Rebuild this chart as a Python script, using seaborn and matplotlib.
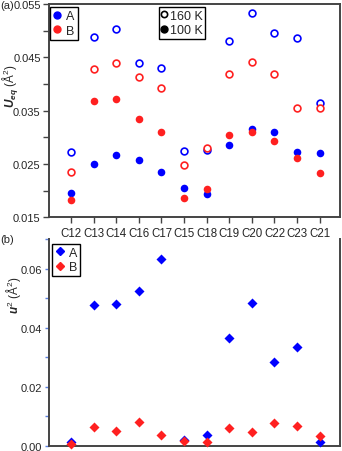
import numpy as np
import pandas as pd
import matplotlib
matplotlib.use("Agg")
import matplotlib.pyplot as plt
from matplotlib.lines import Line2D
from matplotlib.ticker import MultipleLocator
import seaborn as sns

sns.set_style("ticks")
plt.rcParams["font.family"] = ["Liberation Sans", "DejaVu Sans"]
plt.rcParams["mathtext.fontset"] = "custom"
plt.rcParams["mathtext.rm"] = "Liberation Sans"
plt.rcParams["mathtext.it"] = "Liberation Sans:italic"
plt.rcParams["mathtext.bf"] = "Liberation Sans:bold:italic"

atoms = ["C12", "C13", "C14", "C16", "C17", "C15", "C18", "C19", "C20", "C22", "C23", "C21"]

# Ueq (A^2) at 160 K and 100 K for sites A and B
ueq_160_A = [0.0272, 0.0489, 0.0504, 0.0439, 0.0430, 0.0275, 0.0276, 0.0481, 0.0534, 0.0496, 0.0487, 0.0364]
ueq_160_B = [0.0236, 0.0429, 0.0439, 0.0414, 0.0393, 0.0249, 0.0280, 0.0419, 0.0442, 0.0418, 0.0356, 0.0355]
ueq_100_A = [0.0195, 0.0251, 0.0268, 0.0257, 0.0235, 0.0205, 0.0194, 0.0286, 0.0315, 0.0311, 0.0273, 0.0271]
ueq_100_B = [0.0182, 0.0369, 0.0372, 0.0334, 0.0311, 0.0187, 0.0203, 0.0305, 0.0311, 0.0294, 0.0262, 0.0234]

# u^2 (A^2) for sites A and B
u2_A = [0.0011, 0.0478, 0.0482, 0.0525, 0.0634, 0.0019, 0.0035, 0.0366, 0.0484, 0.0283, 0.0334, 0.0011]
u2_B = [0.0007, 0.0062, 0.0051, 0.0081, 0.0036, 0.0015, 0.0011, 0.0061, 0.0045, 0.0078, 0.0068, 0.0034]

blue = "#0000ff"
red = "#ff2020"
spine_col = "#444444"

fig = plt.figure(figsize=(3.42, 4.52), dpi=100)
ax1 = fig.add_axes([0.1433, 0.5166, 0.8507, 0.4724])
ax2 = fig.add_axes([0.1433, 0.0118, 0.8507, 0.4563])

# top panel
for vals, col in [(ueq_160_A, blue), (ueq_160_B, red)]:
    sns.scatterplot(x=atoms, y=vals, ax=ax1, marker="o", s=24, color=col,
                    facecolor="white", edgecolor=col, linewidth=1.2, zorder=3)
for vals, col in [(ueq_100_A, blue), (ueq_100_B, red)]:
    sns.scatterplot(x=atoms, y=vals, ax=ax1, marker="o", s=30, color=col,
                    edgecolor=col, linewidth=0, zorder=3)

ax1.set_xlim(-0.98, 11.9)
ax1.set_ylim(0.015, 0.055)
ax1.set_yticks([0.015, 0.025, 0.035, 0.045, 0.055])
ax1.set_yticklabels(["0.015", "0.025", "0.035", "0.045", "0.055"])
ax1.yaxis.set_minor_locator(MultipleLocator(0.005))
ax1.tick_params(axis="both", which="both", direction="out", length=4, width=1,
                color=spine_col, labelsize=8, pad=2)
ax1.tick_params(axis="x", labelsize=8.3, pad=3)
for sp in ax1.spines.values():
    sp.set_color(spine_col)
    sp.set_linewidth(1.4)
ax1.set_ylabel(r"$\mathbf{U}_{\mathbf{eq}}$ (Å$^2$)", fontsize=8.5)
ax1.yaxis.set_label_coords(-0.095, 0.618)

h_ab = [Line2D([], [], marker="o", ls="", color=blue, markersize=5, label="A"),
        Line2D([], [], marker="o", ls="", color=red, markersize=5, label="B")]
leg1 = ax1.legend(handles=h_ab, loc="upper left", bbox_to_anchor=(0.005, 0.985),
                  frameon=True, fancybox=False, framealpha=1, edgecolor="black",
                  fontsize=9, handlelength=0.6, handletextpad=0.4, borderpad=0.25,
                  labelspacing=0.2, borderaxespad=0)
leg1.get_frame().set_linewidth(1.0)
ax1.add_artist(leg1)
h_t = [Line2D([], [], marker="o", ls="", color="black", markerfacecolor="white",
              markersize=4.5, markeredgewidth=1.2, label="160 K"),
       Line2D([], [], marker="o", ls="", color="black", markersize=5, label="100 K")]
leg2 = ax1.legend(handles=h_t, loc="upper left", bbox_to_anchor=(0.378, 0.985),
                  frameon=True, fancybox=False, framealpha=1, edgecolor="black",
                  fontsize=9, handlelength=0.4, handletextpad=0.3, borderpad=0.2,
                  labelspacing=0.2, borderaxespad=0)
leg2.get_frame().set_linewidth(1.0)

# bottom panel
for vals, col in [(u2_A, blue), (u2_B, red)]:
    sns.scatterplot(x=atoms, y=vals, ax=ax2, marker="D", s=26, color=col,
                    edgecolor=col, linewidth=0, zorder=3, clip_on=False)

ax2.set_xlim(-0.98, 11.9)
ax2.set_ylim(0, 0.07)
ax2.set_yticks([0.0, 0.02, 0.04, 0.06])
ax2.set_yticklabels(["0.00", "0.02", "0.04", "0.06"])
ax2.yaxis.set_minor_locator(MultipleLocator(0.01))
ax2.tick_params(axis="y", which="both", direction="out", length=3, width=1,
                color="#5b7fe0", labelsize=8, pad=2)
ax2.tick_params(axis="x", length=0, labelbottom=False)
ax2.spines["top"].set_visible(False)
for k in ["left", "right", "bottom"]:
    ax2.spines[k].set_color(spine_col)
    ax2.spines[k].set_linewidth(1.4)
ax2.set_ylabel(r"$\mathbf{u}^2$ (Å$^2$)", fontsize=8.5)
ax2.yaxis.set_label_coords(-0.09, 0.735)

h_ab2 = [Line2D([], [], marker="D", ls="", color=blue, markersize=4.5, label="A"),
         Line2D([], [], marker="D", ls="", color=red, markersize=4.5, label="B")]
leg3 = ax2.legend(handles=h_ab2, loc="upper left", bbox_to_anchor=(0.01, 0.98),
                  frameon=True, fancybox=False, framealpha=1, edgecolor="black",
                  fontsize=9, handlelength=0.8, handletextpad=0.3, borderpad=0.25,
                  labelspacing=0.2, borderaxespad=0)
leg3.get_frame().set_linewidth(1.0)

fig.text(0.0, 1 - 6 / 452, "(a)", fontsize=8, va="center", ha="left")
fig.text(0.0, 1 - 240 / 452, "(b)", fontsize=8, va="center", ha="left")

fig.savefig("out.png", dpi=100)
